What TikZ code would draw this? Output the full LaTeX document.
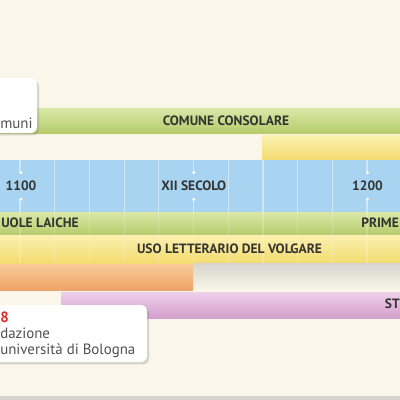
\documentclass[tikz,border=0pt]{standalone}
\usepackage{fontspec}
\setsansfont{PT Sans}
\usetikzlibrary{shadows}
\definecolor{bgcream}{RGB}{250,246,234}
\definecolor{stripgray}{RGB}{215,213,205}
\definecolor{bandblue}{RGB}{168,212,242}
\definecolor{gridblue}{RGB}{206,232,249}
\definecolor{greenlight}{RGB}{218,232,168}
\definecolor{greendark}{RGB}{182,204,108}
\definecolor{yellowlight}{RGB}{251,240,176}
\definecolor{yellowdark}{RGB}{243,220,112}
\definecolor{orangelight}{RGB}{250,202,152}
\definecolor{orangedark}{RGB}{236,164,104}
\definecolor{purplelight}{RGB}{238,208,234}
\definecolor{purpledark}{RGB}{212,160,205}
\definecolor{bartext}{RGB}{52,52,48}
\definecolor{boxtext}{RGB}{80,80,80}
\definecolor{boxred}{RGB}{225,40,40}

\begin{document}
\begin{tikzpicture}[x=0.25mm, y=-0.25mm,
  barlabel/.style={font=\sffamily\bfseries\fontsize{9.6}{11}\selectfont, text=bartext, inner sep=0pt},
  yearlabel/.style={barlabel, fill=bandblue, inner xsep=1pt, minimum height=6.5mm},
  notetext/.style={font=\sffamily\fontsize{10.6}{12}\selectfont, text=boxtext, inner sep=0pt, anchor=base west},
  notebox/.style={fill=white, rounded corners=1.5mm, inner sep=0pt,
    drop shadow={opacity=0.3, shadow xshift=0.5mm, shadow yshift=-0.6mm}}]

  \useasboundingbox (0,0) rectangle (400,400);
  \fill[bgcream] (0,0) rectangle (400,400);
  \fill[stripgray] (0,396) rectangle (400,400);
  \clip (0,0) rectangle (400,400);

  \shade[top color=greenlight, bottom color=greendark] (0,108) rectangle (400,133);
  \shade[top color=yellowlight, bottom color=yellowdark] (262,135) rectangle (400,160);

  \fill[bandblue] (0,160) rectangle (400,212);
  \foreach \i in {0,...,11} {
    \draw[gridblue, line width=0.3mm] ({20+34.7*\i},160) -- ({20+34.7*\i},212);
  }

  \shade[top color=greenlight, bottom color=greendark] (0,212) rectangle (400,235);
  \shade[top color=yellowlight, bottom color=yellowdark] (0,235) rectangle (400,263);
  \shade[top color=stripgray, bottom color=bgcream] (193,263) rectangle (400,291);
  \shade[top color=orangelight, bottom color=orangedark] (0,264) rectangle (193,290);
  \shade[top color=purplelight, bottom color=purpledark] (61,292) rectangle (400,318);

  \begin{scope}[opacity=0.2]
    \foreach \i in {0,...,11} {
      \draw[white, line width=0.3mm] ({20+34.7*\i},212) -- ({20+34.7*\i},263);
    }
  \end{scope}

  \node[yearlabel] (y1100) at (21,186) {1100};
  \node[yearlabel] (ysecolo) at (193.8,186) {XII SECOLO};
  \node[yearlabel] (y1200) at (367.5,186) {1200};
  \foreach \n in {y1100, ysecolo, y1200} {
    \fill[white] (\n.north) circle (1.7);
    \fill[white] (\n.south) circle (1.7);
  }

  \node[barlabel] (comune) at (226,121) {COMUNE CONSOLARE};
  \node[barlabel, anchor=west] (scuole) at (1,223) {UOLE LAICHE};
  \node[barlabel, anchor=west] (prime) at (361,223) {PRIME};
  \node[barlabel] (volgare) at (229.5,249) {USO LETTERARIO DEL VOLGARE};
  \node[barlabel, anchor=east] (studio) at (400,304) {ST};

  \node[notebox, minimum width=11.75mm, minimum height=13.75mm] (topbox) at (13.5,105.5) {};
  \node[notetext] (muni) at (0,128) {muni};

  \node[notebox, minimum width=39.25mm, minimum height=14.25mm] (botbox) at (68.5,333.5) {};
  \node[notetext, text=boxred, font=\sffamily\bfseries\fontsize{10.6}{12}\selectfont] (anno) at (0,322) {8};
  \node[notetext] (fondazione) at (0,338) {dazione};
  \node[notetext] (bologna) at (0,354) {università di Bologna};

\end{tikzpicture}
\end{document}
